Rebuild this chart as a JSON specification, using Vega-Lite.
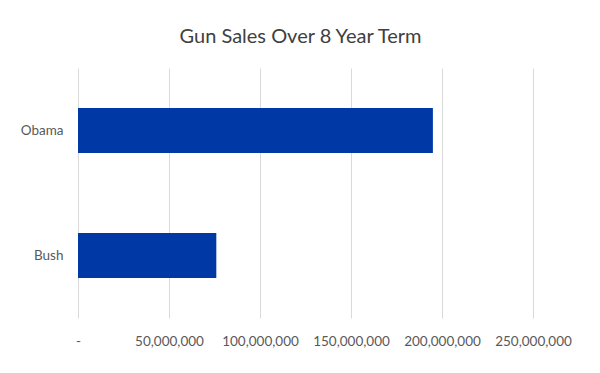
{
  "$schema": "https://vega.github.io/schema/vega-lite/v6.json",
  "autosize": {"type": "none"},
  "width": 455,
  "height": 250,
  "padding": {"left": 78, "top": 68, "right": 67, "bottom": 55},
  "background": "white",
  "title": {
    "text": "Gun Sales Over 8 Year Term",
    "fontSize": 20,
    "font": "Lato",
    "fontWeight": "normal",
    "color": "#404040",
    "anchor": "middle",
    "dx": -5,
    "offset": 21
  },
  "data": {
    "values": [
      {"president": "Obama", "sales": 195000000},
      {"president": "Bush", "sales": 76000000}
    ]
  },
  "mark": {"type": "bar", "color": "#0039A6"},
  "encoding": {
    "y": {
      "field": "president",
      "type": "nominal",
      "sort": ["Obama", "Bush"],
      "title": null,
      "scale": {"paddingInner": 0.64, "paddingOuter": 0.32},
      "axis": {
        "domain": false,
        "ticks": false,
        "labelFont": "Lato",
        "labelFontSize": 13.5,
        "labelColor": "#595959",
        "labelPadding": 15
      }
    },
    "x": {
      "field": "sales",
      "type": "quantitative",
      "title": null,
      "scale": {"domain": [0, 250000000], "nice": false},
      "axis": {
        "values": [0, 50000000, 100000000, 150000000, 200000000, 250000000],
        "labelExpr": "datum.value == 0 ? '-' : format(datum.value, ',')",
        "domain": false,
        "ticks": false,
        "grid": true,
        "gridColor": "#d9d9d9",
        "gridWidth": 1,
        "labelFont": "Lato",
        "labelFontSize": 13.5,
        "labelColor": "#595959",
        "labelPadding": 16,
        "labelFlush": false
      }
    }
  },
  "config": {"view": {"stroke": null}}
}
